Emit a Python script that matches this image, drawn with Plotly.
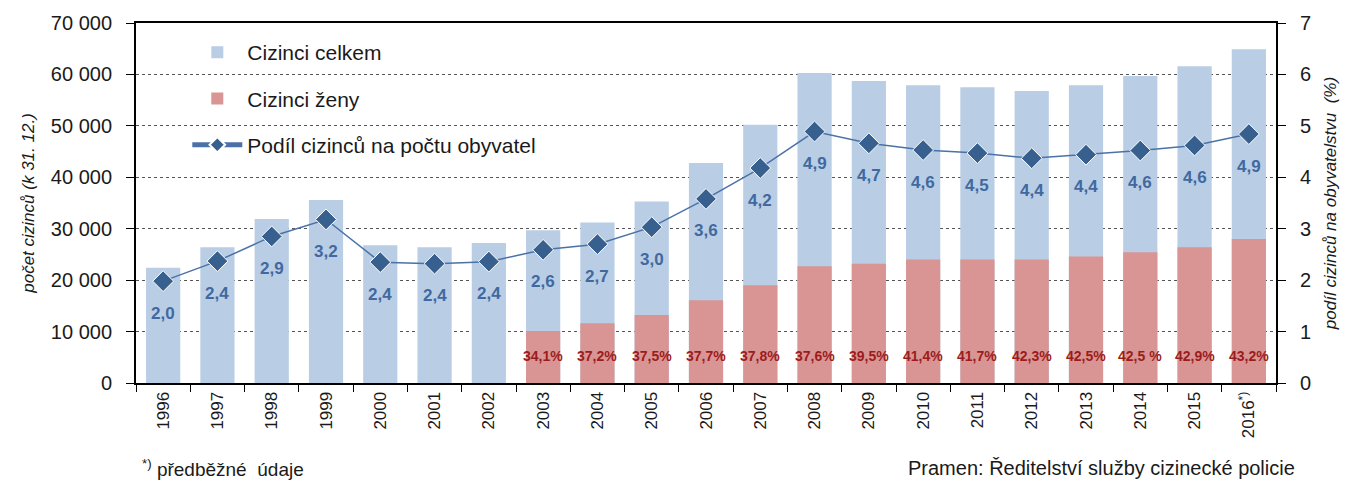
import plotly.graph_objects as go

years = ["1996", "1997", "1998", "1999", "2000", "2001", "2002", "2003", "2004", "2005",
         "2006", "2007", "2008", "2009", "2010", "2011", "2012", "2013", "2014", "2015",
         "2016<sup>*)</sup>"]
total = [22400, 26400, 31900, 35600, 26800, 26400, 27200, 29700, 31200, 35300,
         42800, 50200, 60300, 58700, 57900, 57500, 56800, 57900, 59700, 61600, 64900]
women = [None, None, None, None, None, None, None, 10100, 11600, 13200,
         16100, 19000, 22700, 23200, 24000, 24000, 24000, 24600, 25400, 26400, 28000]
share = [1.98, 2.37, 2.85, 3.18, 2.35, 2.32, 2.36, 2.59, 2.70, 3.03,
         3.58, 4.18, 4.89, 4.66, 4.53, 4.47, 4.37, 4.44, 4.52, 4.62, 4.84]
share_labels = ["2,0", "2,4", "2,9", "3,2", "2,4", "2,4", "2,4", "2,6", "2,7", "3,0",
                "3,6", "4,2", "4,9", "4,7", "4,6", "4,5", "4,4", "4,4", "4,6", "4,6", "4,9"]
women_pct = [None, None, None, None, None, None, None, "34,1%", "37,2%", "37,5%",
             "37,7%", "37,8%", "37,6%", "39,5%", "41,4%", "41,7%", "42,3%", "42,5%",
             "42,5 %", "42,9%", "43,2%"]

FONT = "Liberation Sans, Arial, sans-serif"

fig = go.Figure()
fig.add_trace(go.Bar(x=years, y=total, name="Cizinci celkem", marker_color="#B9CDE5",
                     marker_line_width=0, legendgroup="a"))
fig.add_trace(go.Bar(x=years, y=women, name="Cizinci ženy", marker_color="#D99594",
                     marker_line_width=0, legendgroup="b"))
fig.add_trace(go.Scatter(x=years, y=share, name="Podíl cizinců na počtu obyvatel", yaxis="y2",
                         mode="lines+markers", line=dict(color="#4A72A6", width=1.5),
                         marker=dict(symbol="diamond", size=16, color="#37608F",
                                     line=dict(color="white", width=1)),
                         legendgroup="c"))

annotations = []
# category axis: annotations use the category index
for i, (v, t) in enumerate(zip(share, share_labels)):
    annotations.append(dict(x=i, y=v, xref="x", yref="y2", text=t, showarrow=False, yshift=-32,
                            yanchor="middle", font=dict(family=FONT, size=17, color="#41699F",
                                                        weight="bold")))
for i, t in enumerate(women_pct):
    if t is None:
        continue
    annotations.append(dict(x=i, y=0, xref="x", yref="y", text=t, showarrow=False, yshift=27,
                            yanchor="middle", font=dict(family=FONT, size=14, color="#9C1C1C",
                                                        weight="bold")))
annotations.append(dict(xref="paper", yref="paper", x=0.0035, y=-0.236, xanchor="left",
                        yanchor="middle", showarrow=False, text="<sup>*)</sup> předběžné  údaje",
                        font=dict(family=FONT, size=19, color="#1a1a1a")))
annotations.append(dict(xref="paper", yref="paper", x=1.018, y=-0.236, xanchor="right",
                        yanchor="middle", showarrow=False,
                        text="Pramen: Ředitelství služby cizinecké policie",
                        font=dict(family=FONT, size=20, color="#1a1a1a")))

fig.update_layout(
    width=1349, height=480,
    margin=dict(l=128, r=81, t=15, b=105, autoexpand=False),
    paper_bgcolor="white", plot_bgcolor="white",
    barmode="overlay", bargap=0.37,
    separators=", ",
    font=dict(family=FONT, size=19, color="#1a1a1a"),
    showlegend=True,
    legend=dict(x=0.045, y=0.975, xanchor="left", yanchor="top", bgcolor="rgba(0,0,0,0)",
                tracegroupgap=16, traceorder="grouped", font=dict(family=FONT, size=21),
                itemwidth=50, itemsizing="constant"),
    xaxis=dict(type="category", range=[-0.5, len(years) - 0.5], autorange=False,
               tickangle=-90, tickson="boundaries", ticks="outside",
               ticklen=7, tickcolor="black", showline=True, linecolor="black", linewidth=2,
               mirror=True, showgrid=False, automargin=False,
               tickfont=dict(family=FONT, size=17)),
    yaxis=dict(range=[0, 70000], dtick=10000, ticks="outside", ticklen=8, tickcolor="black",
               showline=True, linecolor="black", linewidth=2, showgrid=True,
               gridcolor="#555555", griddash="dot", gridwidth=1, zeroline=False,
               tickformat=",d", ticklabelstandoff=10, automargin=False,
               tickfont=dict(family=FONT, size=20),
               title=dict(text="<i>počet cizinců (k 31. 12.)</i>", standoff=12,
                          font=dict(family=FONT, size=17))),
    yaxis2=dict(range=[0, 7], dtick=1, overlaying="y", side="right", ticks="outside",
                ticklen=8, tickcolor="black", showline=True, linecolor="black", linewidth=2,
                showgrid=False, zeroline=False, tickfont=dict(family=FONT, size=20),
                ticklabelstandoff=10, automargin=False,
                title=dict(text="<i>podíl cizinců na obyvatelstvu  (%)</i>", standoff=14,
                           font=dict(family=FONT, size=17))),
    annotations=annotations,
)

fig.write_html("out.html")
